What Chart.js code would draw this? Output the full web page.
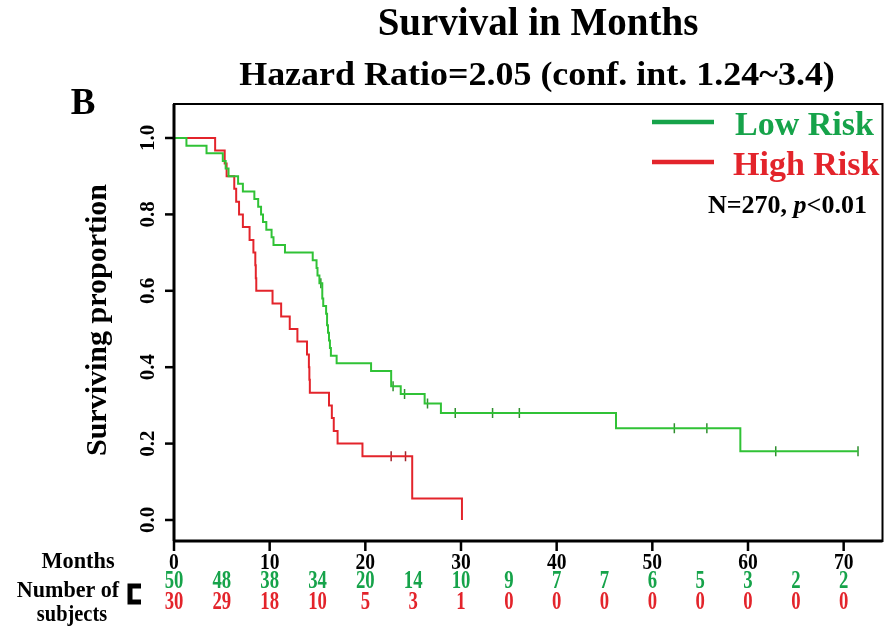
<!DOCTYPE html>
<html>
<head>
<meta charset="utf-8">
<script src="https://cdn.jsdelivr.net/npm/chart.js@4.4.1/dist/chart.umd.min.js"></script>
<style>
  html, body { margin: 0; padding: 0; background: #fff; }
  #wrap { position: relative; width: 889px; height: 633px; }
</style>
</head>
<body>
<div id="wrap"><canvas id="km" width="889" height="633"></canvas></div>
<script>
// Kaplan-Meier steps (month, surviving proportion)
const lowMonths = [0, 1.3, 3.4, 5.1, 5.4, 5.7, 6.7, 7.2, 8.4, 8.8, 9.1, 9.3, 9.65, 10.2, 10.4, 11.6,
  14.5, 14.9, 15.0, 15.2, 15.5, 15.6, 15.9, 16.0, 16.1, 16.2, 16.3, 16.4, 17.0, 20.6, 22.7, 23.7,
  26.2, 27.9, 46.2, 59.2, 71.5];
const lowSurv = [1.0, 0.98, 0.96, 0.94, 0.92, 0.90, 0.88, 0.86, 0.84, 0.82, 0.80, 0.78, 0.76, 0.74, 0.72, 0.70,
  0.68, 0.66, 0.64, 0.62, 0.58, 0.56, 0.54, 0.51, 0.49, 0.47, 0.45, 0.43, 0.41, 0.39, 0.35, 0.33,
  0.305, 0.28, 0.24, 0.18, 0.18];
const lowCensMonths = [15.35, 22.9, 24.1, 26.5, 29.4, 33.3, 36.1, 52.3, 55.7, 62.9, 71.5];
const lowCensSurv = [0.62, 0.35, 0.33, 0.305, 0.28, 0.28, 0.28, 0.24, 0.24, 0.18, 0.18];

const highMonths = [0, 4.3, 5.3, 5.5, 6.3, 6.5, 6.8, 7.2, 7.9, 8.3, 8.5, 8.55, 8.6, 10.3, 11.2, 12.1,
  12.9, 13.9, 14.1, 14.15, 14.2, 16.2, 16.5, 16.7, 17.1, 19.7, 24.9, 30.1];
const highSurv = [1.0, 0.967, 0.933, 0.90, 0.867, 0.833, 0.80, 0.767, 0.733, 0.70, 0.667, 0.633, 0.60, 0.567, 0.533, 0.50,
  0.467, 0.433, 0.40, 0.367, 0.333, 0.30, 0.267, 0.233, 0.20, 0.167, 0.056, 0.0];
const highCensMonths = [22.7, 24.2];
const highCensSurv = [0.167, 0.167];

const xTicks = [0, 10, 20, 30, 40, 50, 60, 70];
const yTicks = [0.0, 0.2, 0.4, 0.6, 0.8, 1.0];
const riskMonths = [0, 5, 10, 15, 20, 25, 30, 35, 40, 45, 50, 55, 60, 65, 70];
const riskLow = [50, 48, 38, 34, 20, 14, 10, 9, 7, 7, 6, 5, 3, 2, 2];
const riskHigh = [30, 29, 18, 10, 5, 3, 1, 0, 0, 0, 0, 0, 0, 0, 0];

const GREEN = "#30c236";
const GREEN_TXT = "#16a34a";
const RED = "#e3242b";
const SERIF = "'Liberation Serif', 'DejaVu Serif', serif";

function pts(xs, ys){ return xs.map((x, i) => ({ x: x, y: ys[i] })); }

// text with optional horizontal squeeze (the source font is narrow and tall)
function txt(ctx, s, x, y, font, sx){
  ctx.save();
  ctx.font = font;
  ctx.translate(x, y);
  ctx.scale(sx || 1, 1);
  ctx.fillText(s, 0, 0);
  ctx.restore();
}

// draws frame, ticks, labels, legend and risk table
const decor = {
  id: "decor",
  afterDraw(chart){
    const ctx = chart.ctx;
    const xs = chart.scales.x, ys = chart.scales.y;
    const a = chart.chartArea;
    ctx.save();
    ctx.strokeStyle = "#000";
    ctx.fillStyle = "#000";
    ctx.lineWidth = 2;
    ctx.strokeRect(a.left, a.top, a.right - a.left, a.bottom - a.top);
    ctx.lineWidth = 3;
    ctx.beginPath();
    ctx.moveTo(a.left, a.top); ctx.lineTo(a.left, a.bottom);
    ctx.moveTo(a.left, a.bottom); ctx.lineTo(a.right, a.bottom);
    ctx.stroke();

    // y ticks
    ctx.lineWidth = 2.5;
    ctx.textAlign = "center";
    ctx.textBaseline = "middle";
    yTicks.forEach(v => {
      const py = ys.getPixelForValue(v);
      ctx.beginPath(); ctx.moveTo(a.left - 9, py); ctx.lineTo(a.left, py); ctx.stroke();
      ctx.save();
      ctx.translate(a.left - 25, py);
      ctx.rotate(-Math.PI / 2);
      txt(ctx, v.toFixed(1), 0, 0, "bold 21px " + SERIF, 1);
      ctx.restore();
    });
    // x ticks
    xTicks.forEach(v => {
      const px = xs.getPixelForValue(v);
      ctx.beginPath(); ctx.moveTo(px, a.bottom); ctx.lineTo(px, a.bottom + 10); ctx.stroke();
      txt(ctx, String(v), px, a.bottom + 22, "bold 23px " + SERIF, 0.85);
    });

    // y title
    ctx.save();
    ctx.translate(98, 320);
    ctx.rotate(-Math.PI / 2);
    txt(ctx, "Surviving proportion", 0, 0, "bold 30px " + SERIF, 1);
    ctx.restore();

    // titles
    txt(ctx, "Survival in Months", 538, 25, "bold 39px " + SERIF, 1);
    txt(ctx, "Hazard Ratio=2.05 (conf. int. 1.24~3.4)", 537, 76, "bold 33px " + SERIF, 1.09);
    txt(ctx, "B", 83, 104, "bold 37px " + SERIF, 1);

    // legend
    ctx.lineWidth = 4.5;
    ctx.strokeStyle = GREEN_TXT;
    ctx.beginPath(); ctx.moveTo(652, 122); ctx.lineTo(714, 122); ctx.stroke();
    ctx.strokeStyle = RED;
    ctx.beginPath(); ctx.moveTo(652, 162); ctx.lineTo(714, 162); ctx.stroke();
    ctx.textAlign = "left";
    ctx.fillStyle = GREEN_TXT;
    txt(ctx, "Low Risk", 735, 126, "bold 34px " + SERIF, 1);
    ctx.fillStyle = RED;
    txt(ctx, "High Risk", 733, 166, "bold 34px " + SERIF, 1);
    ctx.fillStyle = "#000";
    const nFont = "bold 25px " + SERIF;
    const sx = 1.04;
    let tx = 708;
    txt(ctx, "N=270, ", tx, 207, nFont, sx);
    ctx.font = nFont; tx += ctx.measureText("N=270, ").width * sx;
    txt(ctx, "p", tx, 207, "bold italic 25px " + SERIF, sx);
    ctx.font = "bold italic 25px " + SERIF; tx += ctx.measureText("p").width * sx;
    txt(ctx, "<0.01", tx, 207, nFont, sx);

    // risk table
    ctx.textAlign = "center";
    const rFont = "bold 24px " + SERIF;
    txt(ctx, "Months", 78, 562, rFont, 0.93);
    txt(ctx, "Number of", 68, 591, rFont, 0.92);
    txt(ctx, "subjects", 72, 615, rFont, 0.85);
    ctx.strokeStyle = "#000";
    ctx.lineWidth = 5;
    ctx.beginPath();
    ctx.moveTo(141, 586); ctx.lineTo(130, 586); ctx.lineTo(130, 602); ctx.lineTo(141, 602);
    ctx.stroke();
    const nrFont = "bold 26px " + SERIF;
    riskMonths.forEach((m, i) => {
      const px = xs.getPixelForValue(m);
      ctx.fillStyle = GREEN_TXT;
      txt(ctx, String(riskLow[i]), px, 581, nrFont, 0.72);
      ctx.fillStyle = RED;
      txt(ctx, String(riskHigh[i]), px, 602, nrFont, 0.72);
    });
    ctx.restore();
  }
};

new Chart(document.getElementById("km"), {
  type: "line",
  data: {
    datasets: [
      { label: "Low Risk", data: pts(lowMonths, lowSurv), stepped: true, borderColor: GREEN,
        borderWidth: 2, pointRadius: 0, fill: false },
      { label: "High Risk", data: pts(highMonths, highSurv), stepped: true, borderColor: RED,
        borderWidth: 2, pointRadius: 0, fill: false },
      { label: "Low censored", data: pts(lowCensMonths, lowCensSurv), showLine: false,
        pointStyle: "line", rotation: 90, pointRadius: 5, borderColor: "#2f8f2f", borderWidth: 1.5 },
      { label: "High censored", data: pts(highCensMonths, highCensSurv), showLine: false,
        pointStyle: "line", rotation: 90, pointRadius: 5, borderColor: "#a0222a", borderWidth: 1.5 }
    ]
  },
  options: {
    responsive: false,
    animation: false,
    layout: { padding: { left: 174, top: 104, right: 4, bottom: 92 } },
    scales: {
      x: { type: "linear", min: 0, max: 74.06, display: false },
      y: { type: "linear", min: -0.055, max: 1.089, display: false }
    },
    plugins: { legend: { display: false }, tooltip: { enabled: false } }
  },
  plugins: [decor]
});
</script>
</body>
</html>
